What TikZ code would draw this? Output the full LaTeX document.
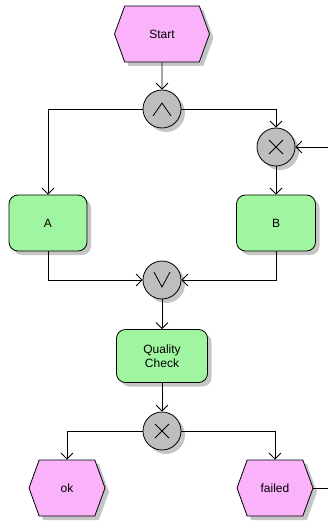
\documentclass[tikz,border=0pt]{standalone}
\usepackage{fontspec}
\setmainfont{Liberation Sans}
\usetikzlibrary{shapes.symbols,shadows,arrows.meta}

\definecolor{eventpink}{RGB}{250,178,250}
\definecolor{funcgreen}{RGB}{160,246,160}
\definecolor{gategray}{RGB}{190,190,190}

\begin{document}
\begin{tikzpicture}[x=1pt,y=-1pt,
  font=\fontsize{12}{14}\selectfont,
  line width=0.8pt,
  shade/.style={drop shadow={shadow xshift=4pt,shadow yshift=-4pt,fill=black!30,opacity=0.75}},
  event/.style={shape=signal, signal to=west and east, signal pointer angle=140,
    draw, fill=eventpink, minimum height=56pt, inner sep=0pt, shade},
  func/.style={rectangle, rounded corners=9pt, draw, fill=funcgreen, align=center,
    inner sep=0pt, minimum height=56pt, shade},
  gate/.style={circle, draw, fill=gategray, minimum size=38pt, inner sep=0pt, shade},
  andgate/.style={gate, path picture={
    \draw ([shift={(-9pt,-7pt)}]path picture bounding box.center)
       -- ([shift={(0pt,6pt)}]path picture bounding box.center)
       -- ([shift={(9pt,-7pt)}]path picture bounding box.center);}},
  orgate/.style={gate, path picture={
    \draw ([shift={(-8pt,8pt)}]path picture bounding box.center)
       -- ([shift={(0pt,-7pt)}]path picture bounding box.center)
       -- ([shift={(8pt,8pt)}]path picture bounding box.center);}},
  xorgate/.style={gate, path picture={
    \draw ([shift={(-7pt,-7pt)}]path picture bounding box.center)
       -- ([shift={(7pt,7pt)}]path picture bounding box.center);
    \draw ([shift={(-7pt,7pt)}]path picture bounding box.center)
       -- ([shift={(7pt,-7pt)}]path picture bounding box.center);}},
  flow/.style={-{Straight Barb[length=6pt,width=12pt]}},
]
\useasboundingbox (0,0) rectangle (328,521);

% events
\node[event, minimum width=95pt] (start) at (162,34) {Start};
\node[event, minimum width=76pt] (ok) at (67,488) {ok};
\node[event, minimum width=76pt] (failed) at (275,488) {failed};

% functions
\node[func, minimum width=78pt] (a) at (48,223) {A};
\node[func, minimum width=79pt] (b) at (276,223) {B};
\node[func, minimum width=91pt, minimum height=53pt] (qc) at (162,356) {Quality\\Check};

% gateways
\node[andgate] (and) at (162,109) {};
\node[xorgate] (x1) at (276,147) {};
\node[orgate] (or) at (162,280) {};
\node[xorgate] (x2) at (162,431) {};

% loop ends leaving the sheet on the right
\coordinate (loopin) at (328,147);
\coordinate (loopout) at (328,488);

% control flow
\draw[flow] (start) -- (and);
\draw[flow] (and.west) -| (a.north);
\draw[flow] (and.east) -| (x1.north);
\draw[flow] (loopin) -- (x1.east);
\draw[flow] (x1) -- (b);
\draw[flow] (a.south) |- (or.west);
\draw[flow] (b.south) |- (or.east);
\draw[flow] (or) -- (qc);
\draw[flow] (qc) -- (x2);
\draw[flow] (x2.west) -| (ok.north);
\draw[flow] (x2.east) -| (failed.north);
\draw (failed.east) -- (loopout);
\end{tikzpicture}
\end{document}
